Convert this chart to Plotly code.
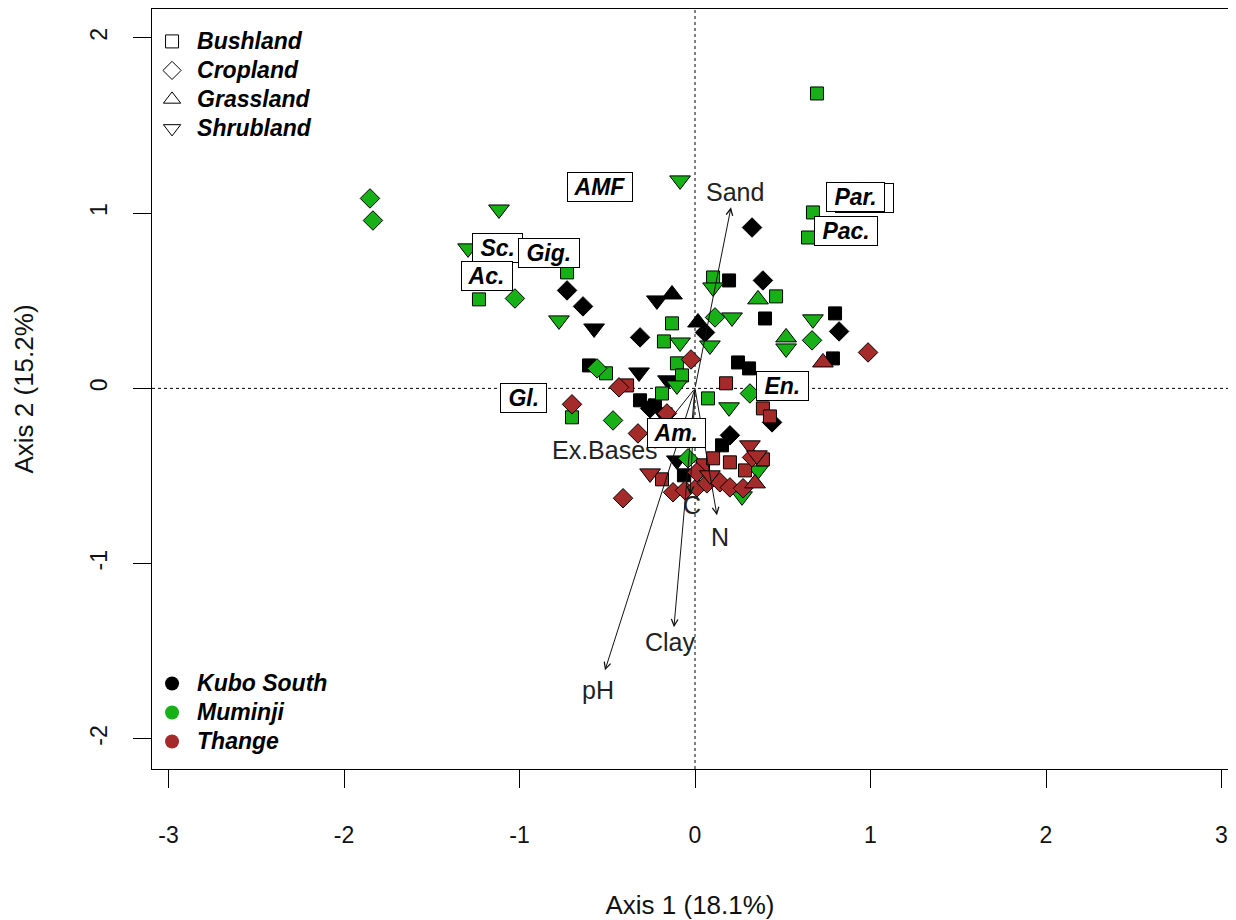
import plotly.graph_objects as go

# ---------------- data (ordination scores) ----------------
# Kubo South (black)
kubo_bush_x = [0.194, 0.399, 0.798, 0.786, 0.245, 0.308, -0.604, -0.063, 0.154, -0.313, -0.228]
kubo_bush_y = [0.616, 0.399, 0.428, 0.171, 0.148, 0.114, 0.131, -0.496, -0.325, -0.068, -0.097]
kubo_crop_x = [0.325, 0.387, 0.821, -0.729, -0.638, -0.313, 0.057, 0.439, 0.199, -0.256]
kubo_crop_y = [0.918, 0.616, 0.325, 0.559, 0.468, 0.291, 0.319, -0.194, -0.268, -0.114]
kubo_grass_x = [-0.131, 0.017]
kubo_grass_y = [0.536, 0.376]
kubo_shrub_x = [-0.217, -0.575, -0.319, -0.103, -0.154, -0.188]
kubo_shrub_y = [0.502, 0.342, 0.091, -0.411, 0.046, -0.137]

# Muminji (green)
mum_bush_x = [0.695, 0.672, 0.644, -1.231, -0.729, -0.507, -0.701, 0.103, 0.462, -0.131, -0.177, -0.103, -0.074, -0.188, 0.074]
mum_bush_y = [1.683, 1.004, 0.861, 0.508, 0.662, 0.086, -0.165, 0.633, 0.525, 0.371, 0.268, 0.143, 0.074, -0.029, -0.057]
mum_crop_x = [-1.852, -1.835, -1.026, -0.558, -0.467, 0.114, 0.667, 0.313, -0.040]
mum_crop_y = [1.084, 0.958, 0.513, 0.114, -0.183, 0.405, 0.274, -0.029, -0.399]
mum_grass_x = [0.359, 0.519]
mum_grass_y = [0.508, 0.291]
mum_shrub_x = [-0.085, -1.117, -1.293, -0.775, -0.085, 0.103, 0.211, 0.085, -0.103, 0.672, 0.519, 0.194, 0.359, 0.268]
mum_shrub_y = [1.187, 1.021, 0.799, 0.388, 0.262, 0.576, 0.405, 0.245, 0.017, 0.394, 0.228, -0.108, -0.468, -0.616]

# Thange (brown)
tha_bush_x = [-0.387, 0.177, 0.387, 0.427, -0.188, 0.046, 0.103, 0.199, 0.387, 0.285]
tha_bush_y = [0.017, 0.029, -0.114, -0.160, -0.519, -0.439, -0.399, -0.422, -0.405, -0.468]
tha_crop_x = [0.986, -0.701, -0.433, -0.023, -0.325, -0.410, -0.125, -0.057, 0.011, 0.068, 0.142, 0.199, 0.274, 0.325, -0.160, 0.011]
tha_crop_y = [0.205, -0.091, 0.006, 0.165, -0.257, -0.627, -0.593, -0.582, -0.565, -0.542, -0.536, -0.565, -0.570, -0.394, -0.143, -0.479]
tha_grass_x = [0.729, 0.342]
tha_grass_y = [0.148, -0.542]
tha_shrub_x = [-0.256, 0.313, 0.353, 0.085]
tha_shrub_y = [-0.485, -0.325, -0.382, -0.496]

# AMF taxa labels
taxa_names = ["AMF", "Sc.", "Gig.", "Ac.", "Gl.", "Am.", "En.", "Par.", "Par.", "Pac."]
taxa_x = [-0.541, -1.123, -0.832, -1.185, -0.980, -0.103, 0.501, 0.966, 0.912, 0.860]
taxa_y = [1.152, 0.804, 0.770, 0.639, -0.057, -0.257, 0.011, 1.084, 1.090, 0.896]

# environmental vectors
env_names = ["Sand", "pH", "Clay", "N", "C", "Ex.Bases"]
env_x = [0.205, -0.513, -0.120, 0.125, -0.028, -0.228]
env_y = [1.033, -1.609, -1.363, -0.724, -0.605, -0.285]
env_lab_x = [0.228, -0.553, -0.142, 0.142, -0.017, -0.513]
env_lab_y = [1.118, -1.723, -1.449, -0.850, -0.667, -0.354]

sites = ["Kubo South", "Muminji", "Thange"]
site_colors = ["#000000", "#17B017", "#A52A2A"]
landuses = ["Bushland", "Cropland", "Grassland", "Shrubland"]
symbols = ["square", "diamond", "triangle-up", "triangle-down"]
sizes = [13, 15, 18, 18]
legend_sizes = [13, 14, 15, 15]

groups = {
    ("Kubo South", "Bushland"): (kubo_bush_x, kubo_bush_y),
    ("Kubo South", "Cropland"): (kubo_crop_x, kubo_crop_y),
    ("Kubo South", "Grassland"): (kubo_grass_x, kubo_grass_y),
    ("Kubo South", "Shrubland"): (kubo_shrub_x, kubo_shrub_y),
    ("Muminji", "Bushland"): (mum_bush_x, mum_bush_y),
    ("Muminji", "Cropland"): (mum_crop_x, mum_crop_y),
    ("Muminji", "Grassland"): (mum_grass_x, mum_grass_y),
    ("Muminji", "Shrubland"): (mum_shrub_x, mum_shrub_y),
    ("Thange", "Bushland"): (tha_bush_x, tha_bush_y),
    ("Thange", "Cropland"): (tha_crop_x, tha_crop_y),
    ("Thange", "Grassland"): (tha_grass_x, tha_grass_y),
    ("Thange", "Shrubland"): (tha_shrub_x, tha_shrub_y),
}

FONT = "Liberation Sans, Arial, sans-serif"
TICK_FONT = 23
TITLE_FONT = 26
ENV_FONT = 25
fig = go.Figure()

for si, s in enumerate(sites):
    for li, lu in enumerate(landuses):
        xs, ys = groups[(s, lu)]
        fig.add_trace(go.Scatter(
            x=xs, y=ys, mode="markers", showlegend=False, hoverinfo="skip",
            marker=dict(symbol=symbols[li], size=sizes[li], color=site_colors[si],
                        line=dict(color="black", width=1)),
        ))


def leg_name(t):
    return f"<b><i><span style='font-size:23px'>{t}</span></i></b>"


# legend entries: land use (open symbols)
for li, lu in enumerate(landuses):
    fig.add_trace(go.Scatter(
        x=[None], y=[None], mode="markers", name=leg_name(lu),
        legend="legend",
        marker=dict(symbol=symbols[li] + "-open", size=legend_sizes[li], color="black",
                    line=dict(color="black", width=1)),
    ))
# legend entries: sites (filled circles)
for si, s in enumerate(sites):
    fig.add_trace(go.Scatter(
        x=[None], y=[None], mode="markers", name=leg_name(s),
        legend="legend2",
        marker=dict(symbol="circle", size=14, color=site_colors[si]),
    ))

annotations = []
# arrows from the origin to each vector tip
for n, x, y in zip(env_names, env_x, env_y):
    annotations.append(dict(
        x=x, y=y, ax=0, ay=0, xref="x", yref="y", axref="x", ayref="y",
        text="", showarrow=True, arrowhead=5, arrowsize=1.3, arrowwidth=1,
        arrowcolor="#111111", standoff=0, startstandoff=0,
    ))
for n, x, y in zip(env_names, env_lab_x, env_lab_y):
    annotations.append(dict(
        x=x, y=y, xref="x", yref="y", text=n, showarrow=False,
        font=dict(family=FONT, size=ENV_FONT, color="#222222"),
    ))
for n, x, y in zip(taxa_names, taxa_x, taxa_y):
    annotations.append(dict(
        x=x, y=y, xref="x", yref="y", text=f"<b><i> {n} </i></b>", showarrow=False,
        font=dict(family=FONT, size=23, color="black"),
        bgcolor="white", bordercolor="black", borderwidth=1, borderpad=1,
    ))

shapes = [
    dict(type="line", xref="x", yref="paper", x0=0, x1=0, y0=0, y1=1,
         line=dict(color="black", width=1, dash="dot"), layer="below"),
    dict(type="line", xref="paper", yref="y", x0=0, x1=1, y0=0, y1=0,
         line=dict(color="black", width=1, dash="dot"), layer="below"),
]

xt = [-3, -2, -1, 0, 1, 2, 3]
yt = [-2, -1, 0, 1, 2]

fig.update_layout(
    width=1220, height=912,
    margin=dict(l=144, r=0, t=1, b=151),
    paper_bgcolor="white", plot_bgcolor="white",
    font=dict(family=FONT, size=22, color="black"),
    annotations=annotations, shapes=shapes,
    xaxis=dict(
        range=[-3.094, 3.037], tickvals=xt, ticktext=[str(v) for v in xt],
        ticks="outside", ticklen=18, tickwidth=1, tickcolor="black",
        showline=True, linecolor="black", linewidth=1, mirror=True,
        showgrid=False, zeroline=False, ticklabelstandoff=27, automargin=False,
        tickfont=dict(family=FONT, size=TICK_FONT, color="#111111"),
        title=dict(text="Axis 1 (18.1%)", standoff=54,
                   font=dict(family=FONT, size=TITLE_FONT, color="#111111")),
    ),
    yaxis=dict(
        range=[-2.172, 2.165], tickvals=yt, ticktext=[str(v) for v in yt],
        tickangle=-90,
        ticks="outside", ticklen=18, tickwidth=1, tickcolor="black",
        showline=True, linecolor="black", linewidth=1, mirror=False,
        showgrid=False, zeroline=False, ticklabelstandoff=17, automargin=False,
        tickfont=dict(family=FONT, size=TICK_FONT, color="#111111"),
        title=dict(text="Axis 2 (15.2%)", standoff=44,
                   font=dict(family=FONT, size=TITLE_FONT, color="#111111")),
    ),
    legend=dict(x=-0.0046, y=0.983, xanchor="left", yanchor="top",
                bgcolor="rgba(0,0,0,0)", borderwidth=0, itemwidth=40,
                font=dict(family=FONT, size=20, color="black")),
    legend2=dict(x=-0.0046, y=0.0105, xanchor="left", yanchor="bottom",
                 bgcolor="rgba(0,0,0,0)", borderwidth=0, itemwidth=40,
                 font=dict(family=FONT, size=20, color="black")),
)

fig.write_html("out.html")
